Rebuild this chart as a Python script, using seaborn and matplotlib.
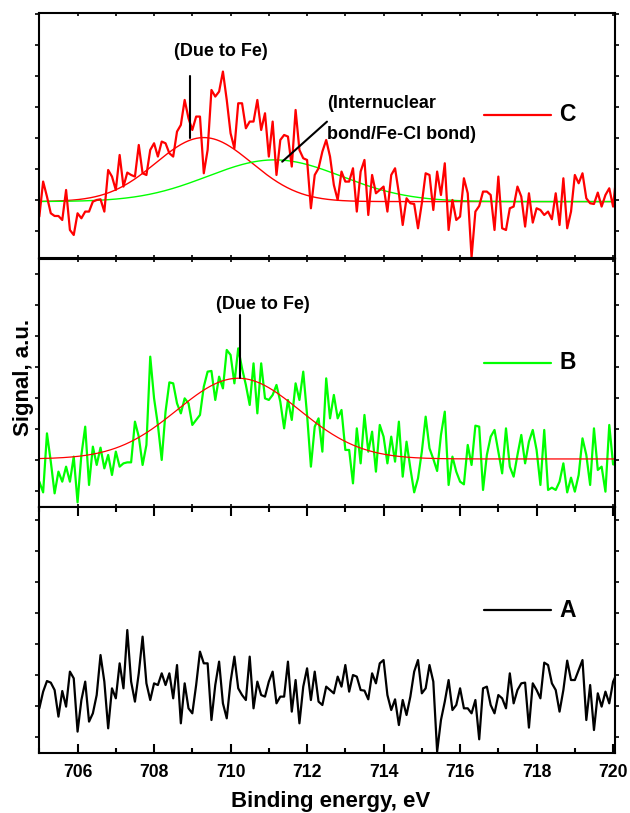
import numpy as np
import matplotlib
matplotlib.use("Agg")
import matplotlib.pyplot as plt
from matplotlib.ticker import MultipleLocator
import seaborn as sns

# ---------------- data ----------------
energy_start, energy_stop = 705.0, 720.1   # binding energy grid, eV

# Spectrum C (red)
signal_C = [
    41.7, 76.7, 61.7, 45.0, 42.3, 42.3, 38.3, 68.3, 28.3, 23.3,
    45.0, 40.0, 46.7, 46.7, 56.7, 58.3, 59.0, 46.7, 88.3, 81.7,
    68.3, 103.3, 71.7, 85.7, 83.3, 81.7, 113.3, 85.0, 83.3, 108.3,
    115.0, 101.7, 116.7, 115.0, 105.0, 101.7, 126.7, 133.3, 158.3, 140.0,
    128.3, 141.7, 141.7, 85.0, 108.3, 168.3, 161.7, 166.7, 186.7, 158.3,
    125.0, 110.0, 155.0, 155.0, 130.0, 136.7, 136.7, 158.3, 128.3, 145.0,
    101.7, 136.7, 83.3, 118.3, 123.3, 121.7, 91.7, 148.3, 108.3, 100.0,
    98.3, 50.0, 83.3, 90.0, 106.7, 118.3, 101.7,
    73.3, 58.3, 86.7, 76.7, 76.7, 90.0, 46.7, 86.7, 98.3, 43.3,
    83.3, 65.0, 68.3, 71.7, 46.7, 83.3, 90.0, 65.0, 33.3, 60.0,
    55.0, 54.3, 30.0, 55.0, 85.0, 83.3, 48.3, 86.7, 63.3, 95.0,
    28.3, 58.3, 38.3, 41.7, 80.0, 65.0, 1.0, 46.7, 52.3, 66.7,
    66.7, 63.3, 28.3, 81.7, 30.0, 28.3, 50.0, 51.7, 71.7, 61.7,
    31.7, 65.0, 35.7, 50.0, 48.3, 43.3, 46.7, 39.0, 65.0, 33.3,
    80.0, 30.0, 46.7, 83.3, 75.0, 85.0, 60.0, 55.0, 54.3, 65.7,
    51.7, 63.3, 70.0, 51.7, 89.0,
]

# Spectrum B (green)
signal_B = [
    25.0, 14.3, 73.3, 45.0, 13.3, 35.0, 25.0, 40.0, 25.0, 50.0,
    4.3, 51.7, 80.0, 21.7, 60.0, 41.7, 59.0, 38.3, 51.7, 31.7,
    55.0, 40.0, 43.3, 44.3, 44.3, 85.0, 70.0, 41.7, 61.7, 150.0,
    108.3, 81.7, 46.7, 95.0, 124.3, 123.3, 103.3, 93.3, 108.3, 103.3,
    81.7, 86.7, 91.7, 120.0, 135.0, 135.7, 106.7, 130.0, 118.3, 156.7,
    151.7, 123.3, 158.3, 138.3, 121.7, 101.7, 143.3, 93.3, 143.3, 108.3,
    106.7, 111.7, 121.7, 105.0, 78.3, 106.7, 86.7, 123.3, 106.7, 135.0,
    91.7, 40.0, 80.0, 88.3, 55.0, 128.3, 88.3,
    111.7, 88.3, 96.7, 56.7, 56.7, 23.3, 78.3, 43.3, 91.7, 55.0,
    75.0, 35.0, 81.7, 70.0, 43.3, 70.0, 45.0, 85.0, 30.0, 65.0,
    38.3, 14.3, 28.3, 55.0, 90.0, 58.3, 47.7, 35.7, 71.7, 95.0,
    21.7, 50.0, 35.0, 25.0, 22.3, 61.7, 41.7, 81.0, 80.0, 16.7,
    51.7, 70.0, 76.7, 55.0, 33.3, 78.3, 40.0, 30.0, 51.7, 71.7,
    43.3, 65.0, 76.7, 56.7, 21.7, 76.7, 16.7, 19.0, 16.7, 25.0,
    43.3, 14.3, 29.0, 15.0, 31.7, 68.3, 51.7, 21.7, 78.3, 36.7,
    40.0, 15.0, 81.7, 42.3, 41.7,
]

# Spectrum A (black)
signal_A = [
    45.0, 61.7, 72.3, 70.7, 63.3, 36.7, 62.3, 46.7, 81.7, 75.0,
    21.7, 53.3, 71.7, 31.7, 40.0, 58.3, 98.3, 71.7, 25.0, 65.0,
    55.0, 90.0, 65.0, 123.3, 71.7, 51.7, 80.0, 116.7, 70.0, 53.3,
    70.0, 68.3, 80.0, 68.3, 80.0, 55.0, 88.3, 30.0, 70.0, 45.0,
    40.0, 68.3, 101.7, 90.0, 90.0, 33.3, 68.3, 91.7, 50.0, 35.0,
    71.7, 96.7, 65.0, 58.3, 53.3, 96.7, 45.0, 71.7, 58.3, 56.7,
    71.7, 81.7, 50.0, 56.7, 56.7, 91.7, 41.7, 73.3, 30.0, 66.7,
    85.0, 53.3, 81.7, 51.7, 48.3, 66.7, 63.3,
    60.0, 76.7, 66.7, 88.3, 61.7, 78.3, 76.7, 63.3, 62.7, 54.0,
    80.0, 70.0, 90.0, 93.3, 58.3, 43.3, 54.0, 28.3, 53.3, 38.3,
    56.7, 81.7, 93.3, 60.0, 65.0, 88.3, 71.7, 1.7, 33.3, 51.7,
    73.3, 43.3, 48.3, 65.0, 45.0, 45.0, 40.0, 53.3, 14.0, 65.0,
    66.7, 48.3, 40.0, 58.3, 55.0, 45.0, 80.0, 50.0, 63.3, 70.0,
    70.7, 25.7, 70.0, 63.3, 55.0, 90.7, 88.3, 70.0, 63.3, 41.7,
    63.3, 92.7, 73.3, 73.3, 83.3, 93.3, 33.3, 68.3, 23.3, 60.0,
    46.7, 61.7, 50.0, 71.7, 80.0,
]

# Gaussian fit components (centre eV, sigma eV, amplitude) and baselines
fit_C_centers = [709.3, 711.15]
fit_C_sigmas = [1.25, 1.75]
fit_C_amplitudes = [64.0, 41.7]
fit_C_colors = ["#ff0000", "#00ff00"]
baseline_C = 56.7

fit_B_center, fit_B_sigma, fit_B_amplitude = 710.2, 1.6, 80.7
baseline_B = 47.7

x_ticks = [706, 708, 710, 712, 714, 716, 718, 720]

# ---------------- styling ----------------
sns.set_style("ticks", rc={"text.color": "black", "axes.labelcolor": "black",
                           "xtick.color": "black", "ytick.color": "black",
                           "axes.edgecolor": "black"})
plt.rcParams["font.family"] = ["Liberation Sans", "DejaVu Sans"]
plt.rcParams["font.weight"] = "bold"

RED = "#ff0000"
GREEN = "#00ff00"
BLACK = "#000000"

fig = plt.figure(figsize=(6.3, 8.13), dpi=100)
left, width = 0.0624, 0.9138
axC = fig.add_axes([left, 0.6823, width, 0.3014])
axB = fig.add_axes([left, 0.3768, width, 0.3047])
axA = fig.add_axes([left, 0.0734, width, 0.3033])


def gauss(x, c, s, a):
    return a * np.exp(-((x - c) ** 2) / (2 * s ** 2))


def energy_grid(n):
    return np.linspace(energy_start, energy_stop, n)


fine = np.linspace(705.0, 720.1, 600)

# Panel C
eC = energy_grid(len(signal_C))
for c, s, a, col in zip(fit_C_centers, fit_C_sigmas, fit_C_amplitudes, fit_C_colors):
    sns.lineplot(x=fine, y=baseline_C + gauss(fine, c, s, a), ax=axC, color=col,
                 linewidth=1.0, estimator=None, sort=False)
sns.lineplot(x=eC, y=signal_C, ax=axC, color=RED, linewidth=1.6,
             estimator=None, sort=False)

# Panel B
eB = energy_grid(len(signal_B))
sns.lineplot(x=eB, y=signal_B, ax=axB, color=GREEN, linewidth=1.6,
             estimator=None, sort=False)
sns.lineplot(x=fine, y=baseline_B + gauss(fine, fit_B_center, fit_B_sigma, fit_B_amplitude),
             ax=axB, color=RED, linewidth=0.9, estimator=None, sort=False)

# Panel A
eA = energy_grid(len(signal_A))
sns.lineplot(x=eA, y=signal_A, ax=axA, color=BLACK, linewidth=1.6,
             estimator=None, sort=False)

ylims = {axC: 245.0, axB: 247.7, axA: 246.6}
ytick_sets = {axC: np.arange(27.5, 245, 31), axB: np.arange(16, 247, 31),
              axA: np.arange(16, 246, 31)}

for ax in (axC, axB, axA):
    ax.set_xlim(705.0, 720.05)
    ax.set_ylim(0, ylims[ax])
    ax.set_xlabel("")
    ax.set_ylabel("")
    ax.xaxis.set_major_locator(MultipleLocator(2))
    ax.xaxis.set_minor_locator(MultipleLocator(1))
    ax.set_yticks(ytick_sets[ax])
    ax.tick_params(axis="y", which="both", direction="out", left=True, right=True,
                   length=3, width=1.2, labelleft=False, color=BLACK)
    ax.tick_params(axis="x", which="both", direction="in", top=True, bottom=True,
                   length=2.5, width=1.2, labelbottom=False, color=BLACK)
    for sp in ax.spines.values():
        sp.set_visible(True)
        sp.set_color(BLACK)
        sp.set_linewidth(1.5)

axA.set_xticks(x_ticks)
axA.tick_params(axis="x", which="major", bottom=True, length=6.5, width=1.5,
                labelbottom=True, labelsize=12.7, pad=8, labelcolor=BLACK)
axA.tick_params(axis="x", which="minor", bottom=True, length=3.7, width=1.5)
for lab in axA.get_xticklabels():
    lab.set_fontweight("bold")

# pseudo legends
for ax, col, name, yy in ((axC, RED, "C", 0.585), (axB, GREEN, "B", 0.581),
                          (axA, BLACK, "A", 0.581)):
    ax.plot([0.7725, 0.889], [yy, yy], transform=ax.transAxes, color=col, lw=1.6)
    ax.text(0.903, yy, name, transform=ax.transAxes, ha="left", va="center",
            fontsize=16.5, fontweight="bold", color=BLACK)

# annotations panel C
axC.text(709.74, 206.3, "(Due to Fe)", ha="center", va="center", fontsize=13,
         fontweight="bold", color=BLACK)
axC.plot([708.94, 708.94], [182.3, 120.3], color=BLACK, lw=1.5)
axC.text(712.52, 155.0, "(Internuclear", ha="left", va="center", fontsize=13,
         fontweight="bold", color=BLACK)
axC.text(712.52, 123.3, "bond/Fe-Cl bond)", ha="left", va="center", fontsize=13,
         fontweight="bold", color=BLACK)
axC.plot([711.35, 712.52], [96.6, 136.6], color=BLACK, lw=1.5)

# annotations panel B
axB.text(710.84, 201.7, "(Due to Fe)", ha="center", va="center", fontsize=13,
         fontweight="bold", color=BLACK)
axB.plot([710.24, 710.24], [191.7, 128.7], color=BLACK, lw=1.5)

fig.text(23 / 630, 1 - 377 / 813, "Signal, a.u.", rotation=90, ha="center",
         va="center", fontsize=16, fontweight="bold", color=BLACK)
fig.text(330.8 / 630, (813 - 806.5) / 813, "Binding energy, eV", ha="center",
         va="baseline", fontsize=16, fontweight="bold", color=BLACK)

fig.savefig("out.png", dpi=100)
